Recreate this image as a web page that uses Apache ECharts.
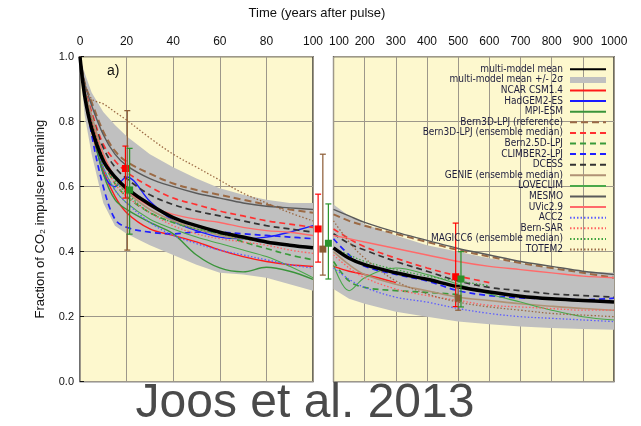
<!DOCTYPE html>
<html><head><meta charset="utf-8">
<script src="https://cdn.jsdelivr.net/npm/echarts@6/dist/echarts.min.js"></script>
<style>html,body{margin:0;padding:0;background:#fff}#c{width:641px;height:426px}</style>
</head><body><div id="c"></div>
<script>
// ---- time grids (years after pulse) ----
const tLeft  = [0, 2, 5, 10, 15, 20, 30, 40, 50, 60, 70, 80, 90, 100];
const tRight = [100, 150, 200, 300, 400, 500, 600, 700, 800, 900, 1000];

// ---- multi-model mean and +/- 2 sigma band ----
const meanL  = [1.0, 0.88, 0.78, 0.68, 0.63, 0.595, 0.545, 0.505, 0.48, 0.46, 0.445, 0.43, 0.42, 0.412];
const meanR  = [0.412, 0.38, 0.36, 0.335, 0.315, 0.292, 0.276, 0.263, 0.255, 0.25, 0.245];
const bandUpL = [1.0, 0.95, 0.89, 0.83, 0.79, 0.755, 0.70, 0.66, 0.625, 0.595, 0.575, 0.56, 0.55, 0.55];
const bandLoL = [0.97, 0.82, 0.70, 0.55, 0.48, 0.455, 0.42, 0.39, 0.36, 0.335, 0.33, 0.32, 0.30, 0.28];
const bandUpR = [0.545, 0.51, 0.485, 0.45, 0.42, 0.40, 0.38, 0.365, 0.35, 0.34, 0.335];
const bandLoR = [0.285, 0.255, 0.24, 0.215, 0.2, 0.185, 0.177, 0.17, 0.165, 0.162, 0.16];

// ---- models (left panel on tLeft, right panel on tRight) ----
const ncarL     = [1.0, 0.88, 0.77, 0.65, 0.57, 0.52, 0.47, 0.45, 0.43, 0.405, 0.385, 0.37, 0.36, 0.355];
const ncarR     = [0.355, 0.34, 0.33, 0.305, null, null, null, null, null, null, null];
const hadgemL   = [1.0, 0.9, 0.8, 0.64, 0.60, 0.63, 0.555, 0.495, 0.465, 0.445, 0.44, 0.445, 0.46, 0.48];
const hadgemR   = [];
const mpiL      = [1.0, 0.9, 0.78, 0.64, 0.56, 0.53, 0.49, 0.455, 0.39, 0.35, 0.338, 0.352, 0.34, 0.315];
const mpiR      = [];
const bern3dRefL = [1.0, 0.92, 0.86, 0.77, 0.71, 0.677, 0.64, 0.61, 0.59, 0.575, 0.56, 0.545, 0.53, 0.52];
const bern3dRefR = [0.515, 0.495, 0.48, 0.455, 0.43, 0.405, 0.385, 0.365, 0.35, 0.335, 0.32];
const bern3dMedL = [1.0, 0.91, 0.83, 0.73, 0.68, 0.645, 0.60, 0.565, 0.545, 0.525, 0.51, 0.495, 0.485, 0.475];
const bern3dMedR = [0.47, 0.44, 0.415, 0.38, 0.35, 0.325, 0.305, null, null, null, null];
const bern25L   = [1.0, 0.9, 0.8, 0.68, 0.61, 0.57, 0.52, 0.49, 0.47, 0.455, 0.43, 0.41, 0.39, 0.375];
const bern25R   = [0.37, 0.31, 0.29, 0.28, 0.275, 0.268, null, null, null, null, null];
const climberL  = [1.0, 0.9, 0.76, 0.6, 0.5, 0.475, 0.46, 0.455, 0.46, 0.46, 0.455, 0.45, 0.445, 0.44];
const climberR  = [0.44, 0.39, 0.355, 0.33, 0.31, 0.28, 0.265, 0.258, 0.255, 0.252, 0.257];
const dcessL    = [1.0, 0.9, 0.82, 0.72, 0.66, 0.625, 0.575, 0.545, 0.525, 0.51, 0.495, 0.48, 0.47, 0.46];
const dcessR    = [0.455, 0.425, 0.405, 0.37, 0.34, 0.31, 0.29, 0.28, 0.27, 0.265, 0.26];
const genieL    = [1.0, 0.9, 0.82, 0.7, 0.625, 0.585, 0.53, 0.495, 0.47, 0.45, 0.44, 0.43, 0.42, 0.41];
const genieR    = [0.40, 0.36, 0.33, 0.30, 0.28, 0.26, 0.25, 0.24, 0.232, 0.225, 0.22];
const loveclimL = [1.0, 0.89, 0.79, 0.66, 0.59, 0.55, 0.50, 0.47, 0.445, 0.425, 0.405, 0.385, 0.355, 0.32];
const loveclimR = [0.36, 0.28, 0.32, 0.35, 0.33, 0.30, 0.27, 0.245, 0.22, 0.2, 0.19];
const mesmoL    = [1.0, 0.92, 0.85, 0.76, 0.70, 0.665, 0.625, 0.60, 0.58, 0.565, 0.55, 0.54, 0.535, 0.53];
const mesmoR    = [0.53, 0.51, 0.49, 0.46, 0.435, 0.41, 0.39, 0.37, 0.355, 0.34, 0.33];
const uvicL     = [1.0, 0.89, 0.8, 0.7, 0.63, 0.59, 0.54, 0.515, 0.50, 0.49, 0.475, 0.465, 0.46, 0.45];
const uvicR     = [0.45, 0.44, 0.43, 0.41, 0.39, 0.37, 0.355, 0.345, 0.335, 0.325, 0.32];
const acc2L     = [1.0, 0.89, 0.79, 0.66, 0.59, 0.55, 0.49, 0.45, 0.425, 0.405, 0.39, 0.375, 0.36, 0.35];
const acc2R     = [0.35, 0.315, 0.29, 0.26, 0.245, 0.225, 0.21, 0.2, 0.195, 0.19, 0.185];
const bernsarL  = [1.0, 0.9, 0.8, 0.68, 0.61, 0.57, 0.52, 0.48, 0.455, 0.44, 0.43, 0.42, 0.405, 0.395];
const bernsarR  = [0.39, 0.35, 0.32, 0.285, 0.265, 0.25, 0.235, 0.23, 0.225, 0.22, 0.22];
const magiccL   = [1.0, 0.9, 0.8, 0.69, 0.62, 0.58, 0.52, 0.49, 0.47, 0.455, 0.44, 0.43, 0.42, 0.41];
const magiccR   = [0.41, 0.39, 0.37, 0.345, 0.325, 0.31, 0.295, null, null, null, null];
const totemL    = [1.0, 0.92, 0.87, 0.855, 0.83, 0.805, 0.75, 0.70, 0.66, 0.62, 0.58, 0.55, 0.52, 0.495];
const totemR    = [0.495, 0.43, 0.38, 0.31, 0.27, 0.245, 0.23, 0.22, 0.21, 0.205, 0.2];

// ---- error bars (red, brown, green groups) ----
const errLeftYears = [19.5, 20.3, 21.3];
const errLeftMid   = [0.656, null, 0.59];
const errLeftLow   = [0.565, 0.405, 0.454];
const errLeftHigh  = [0.725, 0.834, 0.718];
const errGapPos    = [0.25, 0.48, 0.75];     // year 100, drawn between the panels
const errGapMid    = [0.47, 0.408, 0.426];
const errGapLow    = [0.368, 0.328, 0.316];
const errGapHigh   = [0.577, 0.70, 0.547];
const errRightYears = [492, 500, 509];
const errRightMid  = [0.323, 0.257, 0.316];
const errRightLow  = [0.231, 0.22, 0.23];
const errRightHigh = [0.488, 0.29, 0.40];

// ---- names ----
const meanName = 'multi-model mean';
const bandName = 'multi-model mean +/- 2σ';
const models = [
  ['NCAR CSM1.4', ncarL, ncarR],
  ['HadGEM2-ES', hadgemL, hadgemR],
  ['MPI-ESM', mpiL, mpiR],
  ['Bern3D-LPJ (reference)', bern3dRefL, bern3dRefR],
  ['Bern3D-LPJ (ensemble median)', bern3dMedL, bern3dMedR],
  ['Bern2.5D-LPJ', bern25L, bern25R],
  ['CLIMBER2-LPJ', climberL, climberR],
  ['DCESS', dcessL, dcessR],
  ['GENIE (ensemble median)', genieL, genieR],
  ['LOVECLIM', loveclimL, loveclimR],
  ['MESMO', mesmoL, mesmoR],
  ['UVic2.9', uvicL, uvicR],
  ['ACC2', acc2L, acc2R],
  ['Bern-SAR', bernsarL, bernsarR],
  ['MAGICC6 (ensemble median)', magiccL, magiccR],
  ['TOTEM2', totemL, totemR]
];

// ---- styles ----
const DASH = [6, 4], DOT = [1.5, 2];
const styles = {
  'NCAR CSM1.4': {color:'#ff1a1a', type:'solid', width:1.4},
  'HadGEM2-ES': {color:'#1a1aff', type:'solid', width:1.4},
  'MPI-ESM': {color:'#3a943a', type:'solid', width:1.4},
  'Bern3D-LPJ (reference)': {color:'#9b6a45', type:[7,4], width:2},
  'Bern3D-LPJ (ensemble median)': {color:'#ff3030', type:DASH, width:1.7},
  'Bern2.5D-LPJ': {color:'#3a9a3a', type:DASH, width:1.7},
  'CLIMBER2-LPJ': {color:'#2020ff', type:DASH, width:1.7},
  'DCESS': {color:'#333333', type:DASH, width:1.7},
  'GENIE (ensemble median)': {color:'#b09275', type:'solid', width:1.6},
  'LOVECLIM': {color:'#4aa84a', type:'solid', width:1.1},
  'MESMO': {color:'#5a5a5a', type:'solid', width:1.4},
  'UVic2.9': {color:'#ff6a6a', type:'solid', width:1.4},
  'ACC2': {color:'#5c5cff', type:DOT, width:1.3},
  'Bern-SAR': {color:'#ff6060', type:DOT, width:1.3},
  'MAGICC6 (ensemble median)': {color:'#3fa33f', type:DOT, width:1.3},
  'TOTEM2': {color:'#9b6a45', type:DOT, width:1.3}
};
const errColors = ['#ff0000', '#8b5a32', '#2a922a'];
const cream = '#fdf8ce';
const bandColor = '#c0c0c0';
const gridColor = '#9d978a';
const FONT = 'Liberation Sans, Arial, sans-serif';

function pairs(t, v) { const o = []; v.forEach((y, i) => { if (y != null) o.push([t[i], y]); }); return o; }

const series = [];
// band polygons
function bandSeries(ax, t, lo, up) {
  return {type:'custom', name:bandName, xAxisIndex:ax, yAxisIndex:ax, z:1, silent:true, clip:true,
    itemStyle:{color:bandColor},
    data:[0],
    renderItem(params, api) {
      const pts = [];
      t.forEach((x, i) => pts.push(api.coord([x, up[i]])));
      for (let i = t.length - 1; i >= 0; i--) pts.push(api.coord([t[i], lo[i]]));
      return {type:'polygon', shape:{points:pts}, style:{fill:bandColor}};
    }};
}
series.push(bandSeries(0, tLeft, bandLoL, bandUpL));
series.push(bandSeries(1, tRight, bandLoR, bandUpR));
// models
models.forEach(([name, L, R]) => {
  const s = styles[name];
  [[0, tLeft, L], [1, tRight, R]].forEach(([ax, t, v]) => {
    series.push({type:'line', name, xAxisIndex:ax, yAxisIndex:ax, data:pairs(t, v),
      symbol:'none', showSymbol:false, smooth:0.35,
      lineStyle:{color:s.color, type:s.type, width:s.width}, itemStyle:{color:s.color}, z:3});
  });
});
// mean
[[0, tLeft, meanL], [1, tRight, meanR]].forEach(([ax, t, v]) => {
  series.push({type:'line', name:meanName, xAxisIndex:ax, yAxisIndex:ax, data:pairs(t, v),
    symbol:'none', showSymbol:false, smooth:0.35,
    lineStyle:{color:'#000', width:3.5}, itemStyle:{color:'#000'}, z:5});
});
// error bars
function errSeries(ax, xs, mid, lo, hi) {
  return {type:'custom', xAxisIndex:ax, yAxisIndex:ax, z:6, silent:true,
    data: xs.map((x, i) => [x, lo[i], hi[i], mid[i] == null ? NaN : mid[i]]),
    renderItem(params, api) {
      const c = errColors[params.dataIndex];
      const x = api.value(0);
      const pL = api.coord([x, api.value(1)]), pH = api.coord([x, api.value(2)]);
      const ch = [
        {type:'line', shape:{x1:pL[0], y1:pL[1], x2:pH[0], y2:pH[1]}, style:{stroke:c, lineWidth:1.2}},
        {type:'line', shape:{x1:pL[0]-3, y1:pL[1], x2:pL[0]+3, y2:pL[1]}, style:{stroke:c, lineWidth:1.2}},
        {type:'line', shape:{x1:pH[0]-3, y1:pH[1], x2:pH[0]+3, y2:pH[1]}, style:{stroke:c, lineWidth:1.2}}
      ];
      const m = api.value(3);
      if (!isNaN(m)) {
        const pM = api.coord([x, m]);
        ch.push({type:'rect', shape:{x:pM[0]-3.5, y:pM[1]-3.5, width:7, height:7}, style:{fill:c}});
      }
      return {type:'group', children:ch};
    }};
}
series.push(errSeries(0, errLeftYears, errLeftMid, errLeftLow, errLeftHigh));
series.push(errSeries(2, errGapPos, errGapMid, errGapLow, errGapHigh));
series.push(errSeries(1, errRightYears, errRightMid, errRightLow, errRightHigh));

const legendData = [meanName, {name:bandName, icon:'rect', itemStyle:{color:bandColor, opacity:1}}]
  .concat(models.map(m => m[0]));

const gridTop = 56.7, gridBottom = 426 - 381.7;
const labelStyle = {color:'#111', fontFamily:FONT, fontSize:12};
const commonX = (min, max, interval, first) => ({
  type:'value', position:'top', min, max, interval,
  axisLine:{show:false}, axisTick:{show:false},
  axisLabel:Object.assign({margin:9,
    formatter:v => (first && v === min) ? '{p|' + v + '}' : String(v),
    rich:{p:Object.assign({padding:[0,0,0,11]}, labelStyle)}}, labelStyle),
  splitLine:{show:true, lineStyle:{color:gridColor, width:1}}
});
const chart = echarts.init(document.getElementById('c'), null, {renderer:'canvas'});
chart.setOption({
  animation:false,
  backgroundColor:'#fff',
  grid:[
    {left:80, right:641-313, top:gridTop, bottom:gridBottom, show:true, backgroundColor:cream, borderColor:'#111', borderWidth:1.2},
    {left:333.5, right:641-614, top:gridTop, bottom:gridBottom, show:true, backgroundColor:cream, borderColor:'#111', borderWidth:1.2},
    {left:313, right:641-333.5, top:gridTop, bottom:gridBottom, show:false}
  ],
  xAxis:[
    Object.assign(commonX(0, 100, 20, false), {gridIndex:0}),
    Object.assign(commonX(100, 1000, 100, true), {gridIndex:1}),
    {type:'value', gridIndex:2, min:0, max:1, show:false}
  ],
  yAxis:[
    {type:'value', gridIndex:0, min:0, max:1, interval:0.2,
     name:'Fraction of CO₂ impulse remaining', nameLocation:'middle', nameGap:33,
     nameTextStyle:{color:'#111', fontFamily:FONT, fontSize:13},
     axisLine:{show:false}, axisTick:{show:true, inside:true, length:4, lineStyle:{color:'#111'}},
     axisLabel:{color:'#111', fontFamily:FONT, fontSize:11, margin:6, formatter:v => v.toFixed(1)},
     splitLine:{show:true, lineStyle:{color:gridColor, width:1}}},
    {type:'value', gridIndex:1, min:0, max:1, interval:0.2,
     axisLine:{show:false}, axisTick:{show:false}, axisLabel:{show:false},
     splitLine:{show:true, lineStyle:{color:gridColor, width:1}}},
    {type:'value', gridIndex:2, min:0, max:1, show:false}
  ],
  legend:{
    data:legendData, orient:'vertical', align:'right', right:34, top:64, padding:0,
    itemWidth:36, itemHeight:6, itemGap:0, selectedMode:false, z:10,
    itemStyle:{opacity:0},
    textStyle:{color:'#1c1c3c', fontFamily:'DejaVu Sans Condensed, sans-serif', fontSize:10, lineHeight:10.6, padding:[0,2,0,0]}
  },
  graphic:[
    {type:'text', x:317, y:13, style:{text:'Time (years after pulse)', fill:'#111', font:'13px ' + FONT, align:'center', verticalAlign:'middle'}},
    {type:'text', x:107, y:64, style:{text:'a)', fill:'#111', font:'14px ' + FONT}, z:10},
    {type:'text', x:305, y:404, style:{text:'Joos et al. 2013', fill:'#4a4a4a', font:'48px ' + FONT, align:'center', verticalAlign:'middle'}, z:10}
  ],
  series
});
</script></body></html>
